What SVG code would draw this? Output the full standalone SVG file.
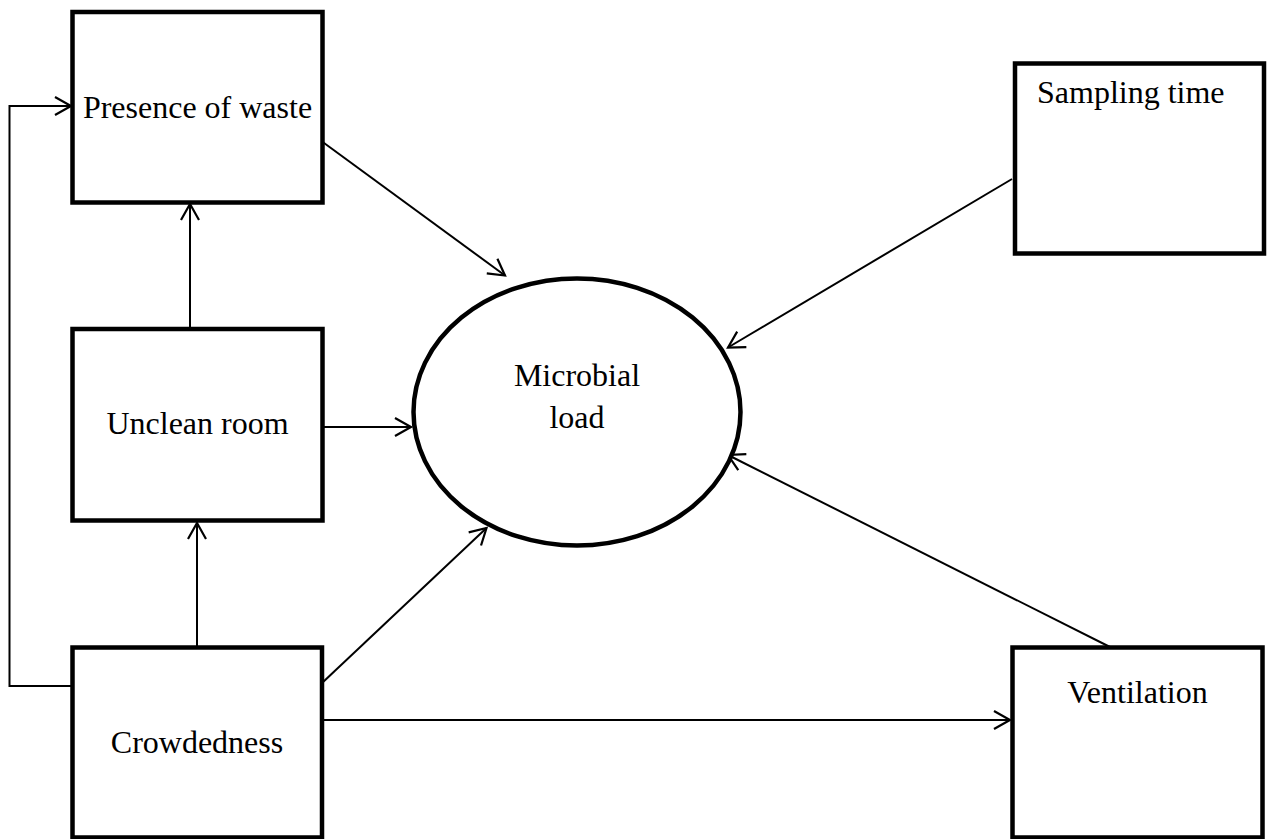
<svg xmlns="http://www.w3.org/2000/svg" width="1268" height="839" viewBox="0 0 1268 839">
<style>
.box{fill:#fff;stroke:#000;stroke-width:4.5}
.lbl{font-family:"Liberation Serif","Times New Roman",serif;font-size:32px;fill:#000}
.c{text-anchor:middle}
.con{fill:none;stroke:#000;stroke-width:2}
.arr{marker-end:url(#ah)}
</style>
<defs>
<marker id="ah" markerUnits="userSpaceOnUse" markerWidth="24" markerHeight="24" viewBox="-20 -12 24 24" refX="0" refY="0" orient="auto">
<path d="M-16,-9 L0,0 L-16,9" fill="none" stroke="#000" stroke-width="2.2"/>
</marker>
</defs>
<g id="connectors">
<polyline class="con arr" points="72,686 9.5,686 9.5,106 71,106"/>
<line class="con arr" x1="190" y1="329" x2="190" y2="204"/>
<line class="con arr" x1="197" y1="647" x2="197" y2="523"/>
<line class="con arr" x1="322" y1="427" x2="411" y2="427"/>
<line class="con arr" x1="322" y1="141.5" x2="505" y2="275.5"/>
<line class="con arr" x1="322" y1="683" x2="486.5" y2="528"/>
<line class="con arr" x1="322" y1="720" x2="1010" y2="720"/>
<line class="con arr" x1="1012" y1="179" x2="728" y2="347.5"/>
<line class="con arr" x1="1110" y1="647" x2="728" y2="455"/>
</g>
<g id="presence">
<rect class="box" x="72.5" y="12" width="250" height="190.5"/>
<text class="lbl c" x="197.5" y="118">Presence of waste</text>
</g>
<g id="unclean">
<rect class="box" x="72.5" y="329" width="250" height="191.5"/>
<text class="lbl c" x="197.5" y="434">Unclean room</text>
</g>
<g id="crowdedness">
<rect class="box" x="72.5" y="647.5" width="249.5" height="190"/>
<text class="lbl c" x="197" y="753">Crowdedness</text>
</g>
<g id="microbial">
<ellipse class="box" cx="577" cy="412" rx="163.5" ry="133.5"/>
<text class="lbl c" x="577" y="386">Microbial</text>
<text class="lbl c" x="577" y="428">load</text>
</g>
<g id="sampling">
<rect class="box" x="1015" y="63.5" width="249" height="190"/>
<text class="lbl" x="1037" y="103">Sampling time</text>
</g>
<g id="ventilation">
<rect class="box" x="1012.5" y="647.5" width="250" height="190"/>
<text class="lbl c" x="1137.5" y="703">Ventilation</text>
</g>
</svg>
